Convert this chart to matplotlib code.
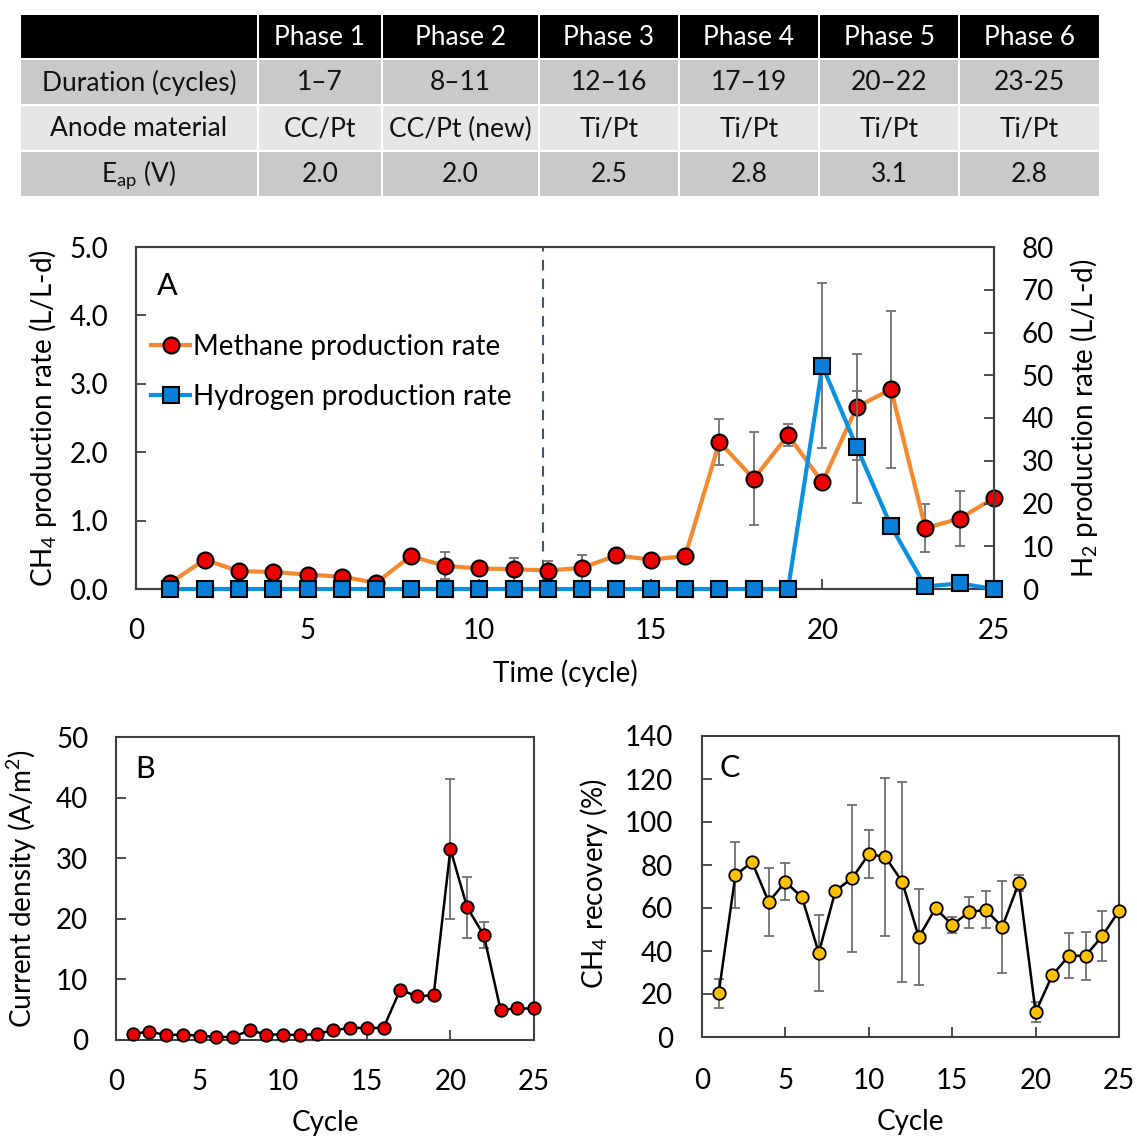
import numpy as np
import matplotlib
matplotlib.use('Agg')
import matplotlib.pyplot as plt
from matplotlib.patches import Rectangle

plt.rcParams['font.family'] = ['Lato', 'DejaVu Sans']
plt.rcParams['mathtext.default'] = 'regular'

# Table of phases
phase_names = ['Phase 1', 'Phase 2', 'Phase 3', 'Phase 4', 'Phase 5', 'Phase 6']
row_names = ['Duration (cycles)', 'Anode material', 'E$_{ap}$ (V)']
durations = ['1\u20137', '8\u201311', '12\u201316', '17\u201319', '20\u201322', '23-25']
anodes = ['CC/Pt', 'CC/Pt (new)', 'Ti/Pt', 'Ti/Pt', 'Ti/Pt', 'Ti/Pt']
voltages = ['2.0', '2.0', '2.5', '2.8', '3.1', '2.8']

# Panel A
cycles = np.arange(1, 26)
methane = [0.09, 0.43, 0.26, 0.25, 0.21, 0.18, 0.09, 0.48, 0.34, 0.30, 0.29, 0.27, 0.31,
           0.49, 0.43, 0.48, 2.15, 1.61, 2.25, 1.56, 2.66, 2.92, 0.89, 1.03, 1.33]
methane_err = [0, 0, 0, 0, 0, 0, 0, 0, 0.20, 0, 0.17, 0.14, 0.19,
               0, 0, 0, 0.34, 0.68, 0.16, 0, 0.77, 1.15, 0.35, 0.40, 0]
hydrogen = [0, 0, 0, 0, 0, 0, 0, 0, 0, 0, 0, 0, 0,
            0, 0, 0, 0, 0, 0, 52.2, 33.2, 14.7, 0.6, 1.3, 0]
hydrogen_err = [0, 0, 0, 0, 0, 0, 0, 0, 0, 0, 0, 0, 0,
                0, 0, 0, 0, 0, 0, 19.3, 13.1, 1.0, 0, 0, 0]
phase_line = 11.85

# Panel B
current = [1.0, 1.4, 0.8, 0.9, 0.7, 0.5, 0.5, 1.6, 0.9, 0.9, 0.8, 1.0, 1.6,
           2.0, 2.0, 2.0, 8.3, 7.2, 7.4, 31.5, 21.9, 17.3, 5.0, 5.2, 5.2]
current_err = [0, 0, 0, 0, 0, 0, 0, 0, 0, 0, 0, 0, 0,
               0, 0, 0, 0, 0, 0, 11.6, 5.0, 2.2, 0, 0, 0]

# Panel C
recovery = [20.3, 75.2, 81.4, 62.8, 72.2, 64.9, 39.1, 68.0, 73.8, 85.1, 83.7, 72.2, 46.5,
            59.8, 52.2, 58.0, 59.2, 51.2, 71.8, 11.6, 28.7, 37.8, 37.8, 47.0, 58.7]
recovery_err = [6.9, 15.4, 0, 16.0, 8.6, 0, 17.5, 0, 34.2, 11.2, 36.7, 46.6, 22.4,
                0, 3.7, 7.3, 8.5, 21.5, 3.7, 4.5, 0, 10.5, 11.2, 11.6, 0]

FS = 20
TFS = 19
spine_c = '#404040'
err_c = '#707070'

fig = plt.figure(figsize=(11.37, 11.37), dpi=100)


def px(left, top, right, bottom):
    W = H = 1137.0
    return [left / W, 1 - bottom / H, (right - left) / W, (bottom - top) / H]


def style(ax, pad):
    for s in ax.spines.values():
        s.set_color(spine_c)
        s.set_linewidth(1.5)
    ax.tick_params(direction='in', length=7, width=1.3, color=spine_c,
                   labelsize=FS, pad=pad)


def errs(ax, x, y, e, **kw):
    x = np.asarray(x); y = np.asarray(y); e = np.asarray(e)
    m = e > 0
    ax.errorbar(x[m], y[m], yerr=e[m], fmt='none', ecolor=err_c, elinewidth=1.3,
                capsize=3.5, capthick=1.3, clip_on=False, **kw)


# ---- table ----
tab = fig.add_axes([0, 0, 1, 1])
tab.set_xlim(0, 1137)
tab.set_ylim(1137, 0)
tab.axis('off')
col_edges = [20, 258, 382, 539, 679, 819, 959, 1100]
row_edges = [14, 59, 105, 151, 197]
row_fill = ['#000000', '#C9C9C9', '#E6E6E6', '#C9C9C9']
cells = [[''] + phase_names,
         [row_names[0]] + durations,
         [row_names[1]] + anodes,
         [row_names[2]] + voltages]
for r in range(4):
    for c in range(7):
        x0, x1 = col_edges[c], col_edges[c + 1]
        y0, y1 = row_edges[r], row_edges[r + 1]
        tab.add_patch(Rectangle((x0 + 1.2, y0 + 1.2), x1 - x0 - 2.4, y1 - y0 - 2.4,
                                facecolor=row_fill[r], edgecolor='none'))
        tab.text((x0 + x1) / 2, (y0 + y1) / 2 + 1, cells[r][c], ha='center', va='center',
                 fontsize=TFS, color='white' if r == 0 else '#111111')

# ---- panel A ----
ax = fig.add_axes(px(136, 247, 994, 589))
ax2 = ax.twinx()
style(ax, 20)
style(ax2, 20)
ax.set_xlim(0, 25)
ax.set_ylim(0, 5)
ax2.set_ylim(0, 80)
ax.set_xticks(np.arange(0, 26, 5))
ax.set_yticks(np.arange(0, 5.1, 1))
ax.yaxis.set_major_formatter(matplotlib.ticker.FormatStrFormatter('%.1f'))
ax2.set_yticks(np.arange(0, 81, 10))
ax.tick_params(axis='x', pad=21)
ax.axvline(phase_line, color='#44546A', ls=(0, (5, 4)), lw=1.5, zorder=1)

errs(ax, cycles, methane, methane_err, zorder=2)
ax.plot(cycles, methane, '-o', color='#F4892F', lw=3, ms=11.5, mfc='#EE0000',
        mec='black', mew=1.5, clip_on=False, zorder=3, label='Methane production rate')
errs(ax2, cycles, hydrogen, hydrogen_err, zorder=2)
ax2.plot(cycles, hydrogen, '-s', color='#0A90E0', lw=3, ms=12, mfc='#0A7FD8',
         mec='black', mew=1.5, clip_on=False, zorder=3, label='Hydrogen production rate')

h1, l1 = ax.get_legend_handles_labels()
h2, l2 = ax2.get_legend_handles_labels()
ax2.legend(h1 + h2, l1 + l2, loc='upper left', bbox_to_anchor=(0.018, 0.745),
           frameon=False, fontsize=FS, handlelength=1.4, handletextpad=0.1,
           labelspacing=0.85, borderpad=0, borderaxespad=0)
ax.text(0.024, 0.885, 'A', transform=ax.transAxes, fontsize=FS + 2, va='center')

ax.set_ylabel('CH$_4$ production rate (L/L-d)', fontsize=FS)
ax.yaxis.set_label_coords(-0.09, 0.5)
ax2.set_ylabel('H$_2$ production rate (L/L-d)', fontsize=FS)
ax2.yaxis.set_label_coords(1.086, 0.5)
ax.set_xlabel('Time (cycle)', fontsize=FS)
ax.xaxis.set_label_coords(0.5, -0.205)

# ---- panel B ----
bx = fig.add_axes(px(116, 737, 534, 1040))
style(bx, 20)
bx.set_xlim(0, 25)
bx.set_ylim(0, 50)
bx.set_xticks(np.arange(0, 26, 5))
bx.set_yticks(np.arange(0, 51, 10))
bx.tick_params(axis='x', pad=21)
errs(bx, cycles, current, current_err, zorder=2)
bx.plot(cycles, current, '-o', color='black', lw=1.8, ms=9, mfc='#EE0000',
        mec='black', mew=1.3, clip_on=False, zorder=3)
bx.text(0.069, 0.894, 'B', transform=bx.transAxes, fontsize=FS + 2,
        ha='center', va='center')
bx.set_ylabel('Current density (A/m$^2$)', fontsize=FS)
bx.yaxis.set_label_coords(-0.185, 0.5)
bx.set_xlabel('Cycle', fontsize=FS)
bx.xaxis.set_label_coords(0.5, -0.23)

# ---- panel C ----
cx = fig.add_axes(px(702, 736, 1119, 1037))
style(cx, 21)
cx.set_xlim(0, 25)
cx.set_ylim(0, 140)
cx.set_xticks(np.arange(0, 26, 5))
cx.set_yticks(np.arange(0, 141, 20))
cx.tick_params(axis='x', pad=22)
errs(cx, cycles, recovery, recovery_err, zorder=2)
cx.plot(cycles, recovery, '-o', color='black', lw=1.8, ms=9, mfc='#FFC000',
        mec='black', mew=1.3, clip_on=False, zorder=3)
cx.text(0.067, 0.894, 'C', transform=cx.transAxes, fontsize=FS + 2,
        ha='center', va='center')
cx.set_ylabel('CH$_4$ recovery (%)', fontsize=FS)
cx.yaxis.set_label_coords(-0.22, 0.51)
cx.set_xlabel('Cycle', fontsize=FS)
cx.xaxis.set_label_coords(0.5, -0.24)

fig.savefig('out.png', dpi=100)
